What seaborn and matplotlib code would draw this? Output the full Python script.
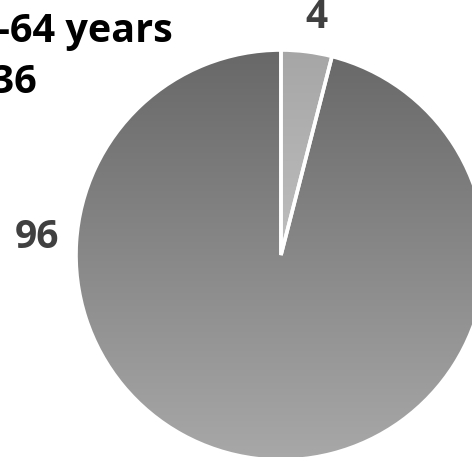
import numpy as np
import matplotlib
matplotlib.use("Agg")
import matplotlib.pyplot as plt
from matplotlib.colors import LinearSegmentedColormap
import seaborn as sns

# Share of respondents (percent)
segments = ["Yes", "No"]
values = [4, 96]
value_labels = [str(v) for v in values]
title_lines = ["18-64 years", "n=136"]

# Vertical gradient (top colour, bottom colour) for each slice
slice_gradients = [("#a6a6a6", "#d6d6d6"), ("#686868", "#a8a8a8")]

sns.set_theme(style="white")
plt.rcParams["font.family"] = ["Open Sans", "DejaVu Sans"]

W, H = 472, 457
fig = plt.figure(figsize=(W / 100, H / 100), dpi=100)
ax = fig.add_axes([0, 0, 1, 1])

cx, cy, r = 281, H - 255, 205

wedges, _ = ax.pie(values, startangle=90, counterclock=False,
                   center=(cx, cy), radius=r,
                   wedgeprops=dict(facecolor="none", edgecolor="white",
                                   linewidth=2.6, zorder=3))

grad = np.linspace(0, 1, 256).reshape(-1, 1)
for wedge, (top, bottom) in zip(wedges, slice_gradients):
    cmap = LinearSegmentedColormap.from_list("g", [bottom, top])
    im = ax.imshow(grad, cmap=cmap, origin="lower", aspect="auto",
                   extent=[cx - r, cx + r, cy - r, cy + r], zorder=2,
                   interpolation="bilinear")
    im.set_clip_path(wedge)

# Value labels
label_pos = [(316, H - 18), (37, H - 237)]
for txt, (x, y) in zip(value_labels, label_pos):
    ax.text(x, y, txt, ha="center", va="center", fontsize=28,
            fontweight="bold", color="#404040", zorder=5)

# Title (extends past the left edge)
ax.text(173, H - 42, title_lines[0], ha="right", va="baseline",
        fontsize=28.5, fontweight="bold", color="black", zorder=5)
ax.text(38, H - 93, title_lines[1], ha="right", va="baseline",
        fontsize=28.5, fontweight="bold", color="black", zorder=5)

ax.set_xlim(0, W)
ax.set_ylim(0, H)
ax.set_aspect("auto")
ax.axis("off")

fig.savefig("out.png", dpi=100, facecolor="white")
